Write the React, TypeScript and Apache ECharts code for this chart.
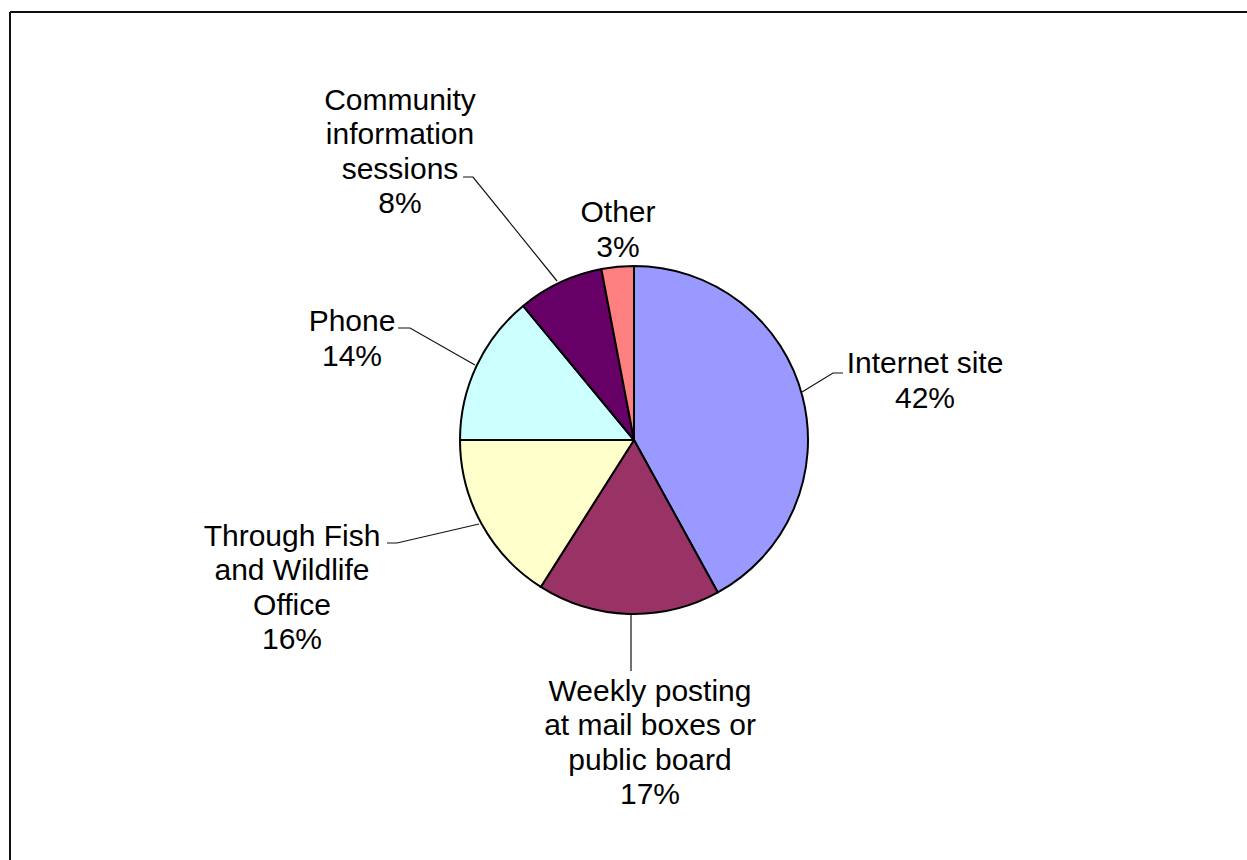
import React, { useEffect, useRef } from "react";
import * as echarts from "echarts";

const categories = [
  "Internet site",
  "Weekly posting\nat mail boxes or\npublic board",
  "Through Fish\nand Wildlife\nOffice",
  "Phone",
  "Community\ninformation\nsessions",
  "Other",
];
const values = [42, 17, 16, 14, 8, 3];
const colors = ["#9999FF", "#993366", "#FFFFCC", "#CCFFFF", "#660066", "#FF8080"];

// label centre positions (page px) and leader lines
const labelCenters: number[][] = [
  [925, 380],
  [650, 742],
  [292, 587],
  [352, 338],
  [400, 151],
  [618, 229],
];
const leaderLines: (number[][] | null)[] = [
  [[802, 392], [833, 373], [843, 373]],
  [[631, 614], [631, 670], [631, 671]],
  [[479, 524], [397, 543], [387, 543]],
  [[475, 365], [410, 328], [398, 328]],
  [[557, 281], [473, 177], [463, 177]],
  null,
];

export default function App() {
  const ref = useRef<HTMLDivElement>(null);
  useEffect(() => {
    if (!ref.current) return;
    const chart = echarts.init(ref.current, undefined, { renderer: "svg" });
    chart.setOption({
      animation: false,
      backgroundColor: "#ffffff",
      graphic: [
        {
          type: "line",
          shape: { x1: 10, y1: 12, x2: 1247, y2: 12 },
          style: { stroke: "#111", lineWidth: 2 },
        },
        {
          type: "line",
          shape: { x1: 10, y1: 12, x2: 10, y2: 860 },
          style: { stroke: "#111", lineWidth: 2 },
        },
      ],
      series: [
        {
          type: "pie",
          center: [634, 440],
          radius: 174,
          startAngle: 90,
          clockwise: true,
          avoidLabelOverlap: false,
          itemStyle: { borderColor: "#000", borderWidth: 2 },
          label: {
            show: true,
            color: "#000",
            fontFamily: "Liberation Sans, Arial, sans-serif",
            fontSize: 30,
            lineHeight: 34.5,
            align: "center",
            formatter: (p: any) => `${p.name}\n${Math.round(p.percent)}%`,
          },
          labelLine: {
            show: true,
            lineStyle: { color: "#111", width: 1.2 },
          },
          labelLayout: (p: any) => {
            const i = p.dataIndex;
            const c = labelCenters[i];
            const out: any = {
              x: c[0],
              y: c[1],
              align: "center",
              verticalAlign: "middle",
            };
            if (leaderLines[i]) out.labelLinePoints = leaderLines[i];
            return out;
          },
          data: categories.map((name, i) => ({
            name,
            value: values[i],
            itemStyle: { color: colors[i] },
            labelLine: { show: leaderLines[i] !== null },
          })),
        },
      ],
    });
    return () => chart.dispose();
  }, []);
  return (
    <div
      ref={ref}
      style={{ position: "fixed", left: 0, top: 0, width: 1247, height: 860 }}
    />
  );
}
